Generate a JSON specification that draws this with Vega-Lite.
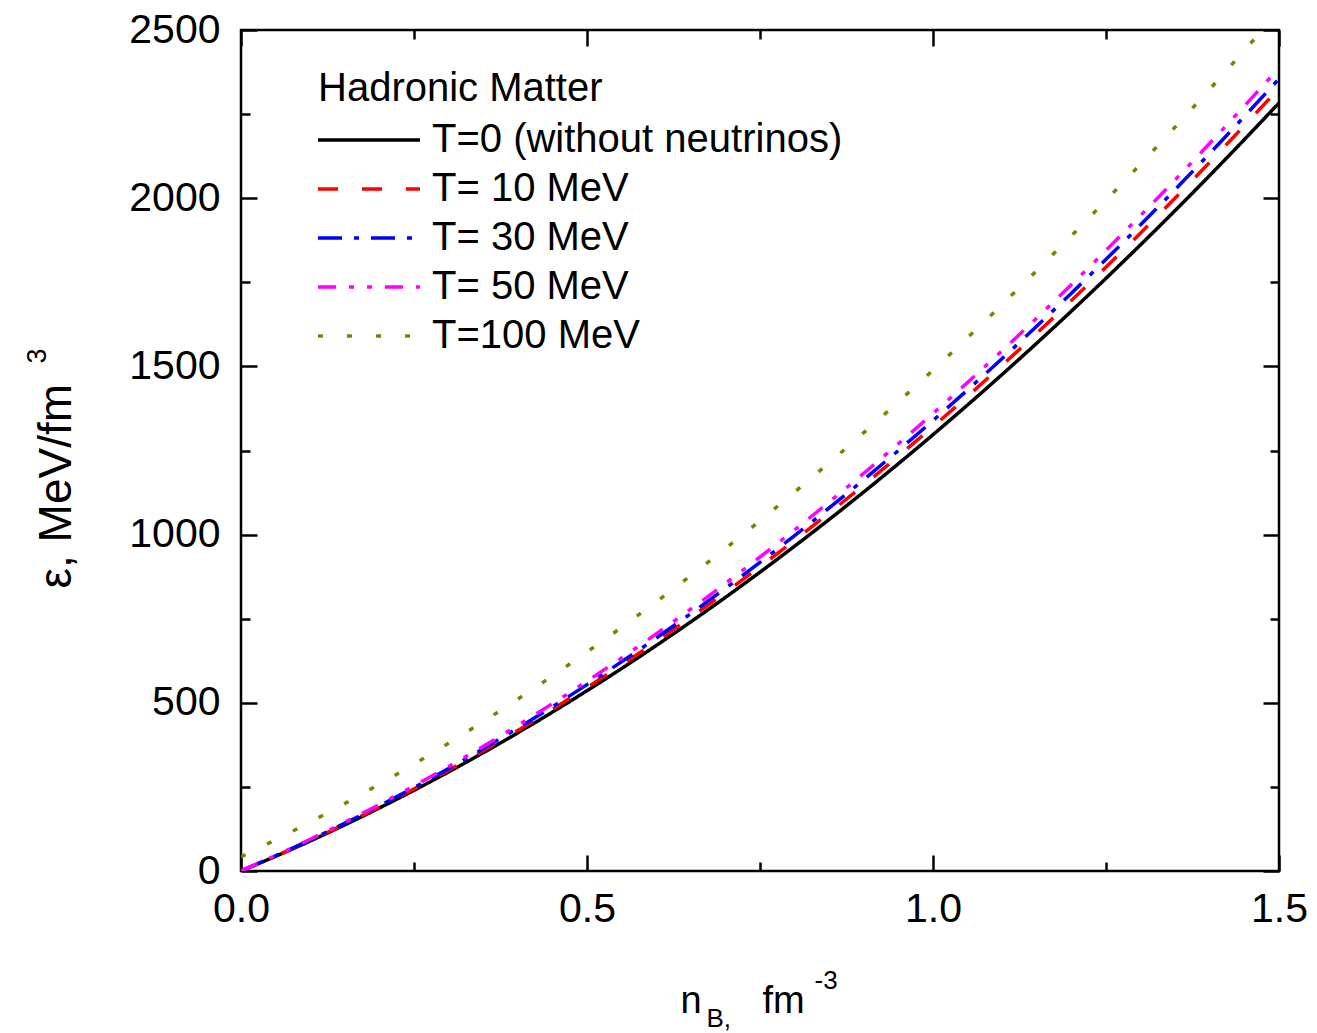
{
  "$schema": "https://vega.github.io/schema/vega-lite/v6.json",
  "width": 1038,
  "height": 841,
  "autosize": {"type": "none"},
  "padding": {"left": 241, "top": 30, "right": 38, "bottom": 162},
  "background": "white",
  "config": {
    "font": "Liberation Sans",
    "view": {"stroke": "black", "strokeWidth": 2.5},
    "axis": {"grid": false, "domain": false, "tickColor": "black", "tickWidth": 2.5, "labelColor": "black", "titleColor": "black", "labelFont": "Liberation Sans", "titleFont": "Liberation Sans", "titleFontWeight": "normal", "labelFlush": false, "labelOverlap": false, "labelBound": false}
  },
  "data": {"values": [
    {"x": 0.0, "e": 0, "T": "T=0 (without neutrinos)"},
    {"x": 0.1, "e": 89.2, "T": "T=0 (without neutrinos)"},
    {"x": 0.2, "e": 187.4, "T": "T=0 (without neutrinos)"},
    {"x": 0.3, "e": 294.6, "T": "T=0 (without neutrinos)"},
    {"x": 0.4, "e": 410.8, "T": "T=0 (without neutrinos)"},
    {"x": 0.5, "e": 536, "T": "T=0 (without neutrinos)"},
    {"x": 0.6, "e": 670.2, "T": "T=0 (without neutrinos)"},
    {"x": 0.7, "e": 813.4, "T": "T=0 (without neutrinos)"},
    {"x": 0.8, "e": 965.6, "T": "T=0 (without neutrinos)"},
    {"x": 0.9, "e": 1126.8, "T": "T=0 (without neutrinos)"},
    {"x": 1.0, "e": 1297, "T": "T=0 (without neutrinos)"},
    {"x": 1.1, "e": 1476.2, "T": "T=0 (without neutrinos)"},
    {"x": 1.2, "e": 1664.4, "T": "T=0 (without neutrinos)"},
    {"x": 1.3, "e": 1861.6, "T": "T=0 (without neutrinos)"},
    {"x": 1.4, "e": 2067.8, "T": "T=0 (without neutrinos)"},
    {"x": 1.5, "e": 2283, "T": "T=0 (without neutrinos)"},
    {"x": 0.0, "e": 0, "T": "T= 10 MeV"},
    {"x": 0.1, "e": 90.7, "T": "T= 10 MeV"},
    {"x": 0.2, "e": 190.6, "T": "T= 10 MeV"},
    {"x": 0.3, "e": 299.7, "T": "T= 10 MeV"},
    {"x": 0.4, "e": 418, "T": "T= 10 MeV"},
    {"x": 0.5, "e": 545.5, "T": "T= 10 MeV"},
    {"x": 0.6, "e": 682.2, "T": "T= 10 MeV"},
    {"x": 0.7, "e": 828.1, "T": "T= 10 MeV"},
    {"x": 0.8, "e": 983.2, "T": "T= 10 MeV"},
    {"x": 0.9, "e": 1147.5, "T": "T= 10 MeV"},
    {"x": 1.0, "e": 1321, "T": "T= 10 MeV"},
    {"x": 1.1, "e": 1503.7, "T": "T= 10 MeV"},
    {"x": 1.2, "e": 1695.6, "T": "T= 10 MeV"},
    {"x": 1.3, "e": 1896.7, "T": "T= 10 MeV"},
    {"x": 1.4, "e": 2107, "T": "T= 10 MeV"},
    {"x": 1.5, "e": 2326.5, "T": "T= 10 MeV"},
    {"x": 0.0, "e": 0, "T": "T= 30 MeV"},
    {"x": 0.1, "e": 92.3, "T": "T= 30 MeV"},
    {"x": 0.2, "e": 193.9, "T": "T= 30 MeV"},
    {"x": 0.3, "e": 304.7, "T": "T= 30 MeV"},
    {"x": 0.4, "e": 424.7, "T": "T= 30 MeV"},
    {"x": 0.5, "e": 554, "T": "T= 30 MeV"},
    {"x": 0.6, "e": 692.5, "T": "T= 30 MeV"},
    {"x": 0.7, "e": 840.3, "T": "T= 30 MeV"},
    {"x": 0.8, "e": 997.3, "T": "T= 30 MeV"},
    {"x": 0.9, "e": 1163.5, "T": "T= 30 MeV"},
    {"x": 1.0, "e": 1339, "T": "T= 30 MeV"},
    {"x": 1.1, "e": 1523.7, "T": "T= 30 MeV"},
    {"x": 1.2, "e": 1717.7, "T": "T= 30 MeV"},
    {"x": 1.3, "e": 1920.9, "T": "T= 30 MeV"},
    {"x": 1.4, "e": 2133.3, "T": "T= 30 MeV"},
    {"x": 1.5, "e": 2355, "T": "T= 30 MeV"},
    {"x": 0.0, "e": 0, "T": "T= 50 MeV"},
    {"x": 0.1, "e": 94.3, "T": "T= 50 MeV"},
    {"x": 0.2, "e": 197.9, "T": "T= 50 MeV"},
    {"x": 0.3, "e": 310.8, "T": "T= 50 MeV"},
    {"x": 0.4, "e": 432.9, "T": "T= 50 MeV"},
    {"x": 0.5, "e": 564.3, "T": "T= 50 MeV"},
    {"x": 0.6, "e": 704.9, "T": "T= 50 MeV"},
    {"x": 0.7, "e": 854.8, "T": "T= 50 MeV"},
    {"x": 0.8, "e": 1013.9, "T": "T= 50 MeV"},
    {"x": 0.9, "e": 1182.3, "T": "T= 50 MeV"},
    {"x": 1.0, "e": 1360, "T": "T= 50 MeV"},
    {"x": 1.1, "e": 1546.9, "T": "T= 50 MeV"},
    {"x": 1.2, "e": 1743.1, "T": "T= 50 MeV"},
    {"x": 1.3, "e": 1948.6, "T": "T= 50 MeV"},
    {"x": 1.4, "e": 2163.3, "T": "T= 50 MeV"},
    {"x": 1.5, "e": 2387, "T": "T= 50 MeV"},
    {"x": 0.0, "e": 42, "T": "T=100 MeV"},
    {"x": 0.1, "e": 145.5, "T": "T=100 MeV"},
    {"x": 0.2, "e": 258.1, "T": "T=100 MeV"},
    {"x": 0.3, "e": 379.9, "T": "T=100 MeV"},
    {"x": 0.4, "e": 510.9, "T": "T=100 MeV"},
    {"x": 0.5, "e": 651, "T": "T=100 MeV"},
    {"x": 0.6, "e": 800.3, "T": "T=100 MeV"},
    {"x": 0.7, "e": 958.7, "T": "T=100 MeV"},
    {"x": 0.8, "e": 1126.3, "T": "T=100 MeV"},
    {"x": 0.9, "e": 1303.1, "T": "T=100 MeV"},
    {"x": 1.0, "e": 1489, "T": "T=100 MeV"},
    {"x": 1.1, "e": 1684.1, "T": "T=100 MeV"},
    {"x": 1.2, "e": 1888.3, "T": "T=100 MeV"},
    {"x": 1.3, "e": 2101.7, "T": "T=100 MeV"},
    {"x": 1.4, "e": 2324.3, "T": "T=100 MeV"},
    {"x": 1.5, "e": 2556, "T": "T=100 MeV"}
  ]},
  "resolve": {"axis": {"x": "independent", "y": "independent"}},
  "layer": [
    {
      "mark": {"type": "line", "clip": true, "strokeWidth": 3.5, "interpolate": "monotone", "strokeCap": "butt"},
      "encoding": {
        "x": {"field": "x", "type": "quantitative", "scale": {"domain": [0, 1.5], "nice": false, "zero": false},
          "axis": {"orient": "bottom", "values": [0, 0.5, 1, 1.5], "format": ".1f", "tickSize": -16, "labelPadding": 34, "labelFontSize": 41,
            "title": "n", "titleFontSize": 38, "titleX": 439, "titleY": 141, "titleAlign": "left", "titleBaseline": "alphabetic"}},
        "y": {"field": "e", "type": "quantitative", "scale": {"domain": [0, 2500], "nice": false, "zero": false},
          "axis": {"orient": "left", "values": [0, 500, 1000, 1500, 2000, 2500], "format": "d", "tickSize": -16, "labelPadding": 37, "labelFontSize": 41,
            "title": "ε,  MeV/fm", "titleFontSize": 46, "titleAngle": -90, "titleX": -171, "titleY": 558, "titleAlign": "left", "titleBaseline": "alphabetic"}},
        "color": {"field": "T", "type": "nominal",
          "scale": {"domain": ["T=0 (without neutrinos)", "T= 10 MeV", "T= 30 MeV", "T= 50 MeV", "T=100 MeV"], "range": ["#000000", "#ff0000", "#0000ff", "#ff00ff", "#808000"]},
          "legend": {"orient": "none", "legendX": 77, "legendY": 39, "title": "Hadronic Matter", "titleFontSize": 40, "titleFontWeight": "normal", "titleColor": "black", "titlePadding": 11, "labelFontSize": 40, "labelColor": "black", "symbolType": "M-1.111,0H4.556", "symbolSize": 1296, "symbolStrokeWidth": 3.5, "labelOffset": 74, "rowPadding": 9, "padding": 0, "labelLimit": 1000, "titleLimit": 1000}},
        "strokeDash": {"field": "T", "type": "nominal",
          "scale": {"domain": ["T=0 (without neutrinos)", "T= 10 MeV", "T= 30 MeV", "T= 50 MeV", "T=100 MeV"], "range": [[1, 0], [20, 24], [24, 12, 5, 12], [18, 13, 5, 13, 5, 13], [5, 24]]},
          "legend": {"orient": "none", "legendX": 77, "legendY": 39, "title": "Hadronic Matter", "titleFontSize": 40, "titleFontWeight": "normal", "titleColor": "black", "titlePadding": 11, "labelFontSize": 40, "labelColor": "black", "symbolType": "M-1.111,0H4.556", "symbolSize": 1296, "symbolStrokeWidth": 3.5, "labelOffset": 74, "rowPadding": 9, "padding": 0, "labelLimit": 1000, "titleLimit": 1000}}
      }
    },
    {
      "mark": {"type": "line", "opacity": 0},
      "encoding": {
        "x": {"field": "x", "type": "quantitative", "scale": {"domain": [0, 1.5], "nice": false, "zero": false},
          "axis": {"orient": "bottom", "values": [0.25, 0.75, 1.25], "tickSize": -9, "labels": false,
            "title": "B,", "titleFontSize": 26, "titleX": 465, "titleY": 155, "titleAlign": "left", "titleBaseline": "alphabetic"}},
        "y": {"field": "e", "type": "quantitative", "scale": {"domain": [0, 2500], "nice": false, "zero": false},
          "axis": {"orient": "left", "values": [250, 750, 1250, 1750, 2250], "tickSize": -9, "labels": false,
            "title": "3", "titleFontSize": 27, "titleAngle": -90, "titleX": -196, "titleY": 333, "titleAlign": "left", "titleBaseline": "alphabetic"}},
        "detail": {"field": "T"}
      }
    },
    {
      "mark": {"type": "line", "opacity": 0},
      "encoding": {
        "x": {"field": "x", "type": "quantitative", "scale": {"domain": [0, 1.5], "nice": false, "zero": false},
          "axis": {"orient": "top", "values": [0, 0.5, 1, 1.5], "tickSize": -16, "labels": false,
            "title": "fm", "titleFontSize": 38, "titleX": 521, "titleY": 982, "titleAlign": "left", "titleBaseline": "alphabetic"}},
        "y": {"field": "e", "type": "quantitative", "scale": {"domain": [0, 2500], "nice": false, "zero": false},
          "axis": {"orient": "right", "values": [0, 500, 1000, 1500, 2000, 2500], "tickSize": -16, "labels": false, "title": null}},
        "detail": {"field": "T"}
      }
    },
    {
      "mark": {"type": "line", "opacity": 0},
      "encoding": {
        "x": {"field": "x", "type": "quantitative", "scale": {"domain": [0, 1.5], "nice": false, "zero": false},
          "axis": {"orient": "top", "values": [0.25, 0.75, 1.25], "tickSize": -9, "labels": false,
            "title": "-3", "titleFontSize": 26, "titleX": 573, "titleY": 958, "titleAlign": "left", "titleBaseline": "alphabetic"}},
        "y": {"field": "e", "type": "quantitative", "scale": {"domain": [0, 2500], "nice": false, "zero": false},
          "axis": {"orient": "right", "values": [250, 750, 1250, 1750, 2250], "tickSize": -9, "labels": false, "title": null}},
        "detail": {"field": "T"}
      }
    }
  ]
}
